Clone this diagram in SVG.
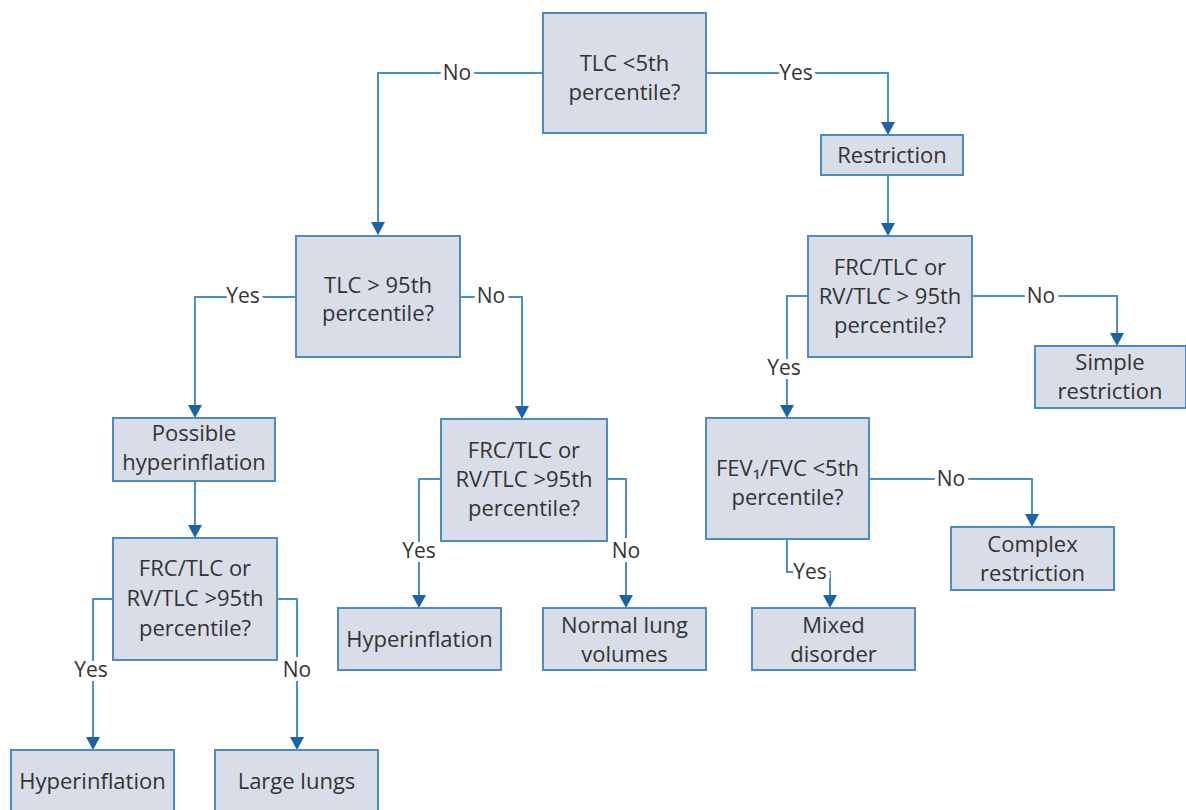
<svg xmlns="http://www.w3.org/2000/svg" width="1186" height="810" viewBox="0 0 1186 810">
<style>
.box{fill:#d9dde8;stroke:#4b8cc3;stroke-width:2}
.t{font-family:"Open Sans","Noto Sans",sans-serif;font-size:22px;fill:#333;text-anchor:middle}
.c{fill:none;stroke:#4a8fc9;stroke-width:2}
.lb{font-family:"Open Sans","Noto Sans",sans-serif;font-size:21px;fill:#333;text-anchor:middle;stroke:#fff;stroke-width:8;paint-order:stroke;stroke-linejoin:round}
.ah{fill:#1b63a6}
</style>
<rect width="1186" height="810" fill="#fff"/>
<g id="connectors">
<path class="c" d="M543,73 H378 V234"/>
<path class="c" d="M706,73 H888 V133"/>
<path class="c" d="M888,175 V234"/>
<path class="c" d="M296,297 H195 V416"/>
<path class="c" d="M460,297 H522 V417"/>
<path class="c" d="M195,481 V536"/>
<path class="c" d="M113,599 H93 V748"/>
<path class="c" d="M277,599 H297 V748"/>
<path class="c" d="M441,479 H419 V606"/>
<path class="c" d="M607,479 H626 V606"/>
<path class="c" d="M972,296 H1117 V344"/>
<path class="c" d="M808,296 H787 V416"/>
<path class="c" d="M869,479 H1032 V525"/>
<path class="c" d="M787,539 V572 H830 V606"/>
<g class="ah">
<path d="M371,222 L385,222 L378,235 Z"/>
<path d="M881,122 L895,122 L888,135 Z"/>
<path d="M881,223 L895,223 L888,236 Z"/>
<path d="M188,405 L202,405 L195,418 Z"/>
<path d="M515,406 L529,406 L522,419 Z"/>
<path d="M188,525 L202,525 L195,538 Z"/>
<path d="M86,737 L100,737 L93,750 Z"/>
<path d="M290,737 L304,737 L297,750 Z"/>
<path d="M412,595 L426,595 L419,608 Z"/>
<path d="M619,595 L633,595 L626,608 Z"/>
<path d="M1110,333 L1124,333 L1117,346 Z"/>
<path d="M780,405 L794,405 L787,418 Z"/>
<path d="M1025,514 L1039,514 L1032,527 Z"/>
<path d="M823,595 L837,595 L830,608 Z"/>
</g>
<text class="lb" x="457" y="80">No</text>
<text class="lb" x="796" y="80">Yes</text>
<text class="lb" x="243" y="303">Yes</text>
<text class="lb" x="491" y="303">No</text>
<text class="lb" x="91" y="677">Yes</text>
<text class="lb" x="297" y="677">No</text>
<text class="lb" x="419" y="558">Yes</text>
<text class="lb" x="626" y="558">No</text>
<text class="lb" x="1041" y="303">No</text>
<text class="lb" x="784" y="375">Yes</text>
<text class="lb" x="951" y="486">No</text>
<text class="lb" x="810" y="579">Yes</text>
</g>
<g id="n1"><rect class="box" x="543" y="13" width="163" height="120"/><text class="t" x="624.5" y="71">TLC &lt;5th</text><text class="t" x="624.5" y="100">percentile?</text></g>
<g id="n2"><rect class="box" x="821" y="135" width="142" height="40"/><text class="t" x="892" y="163">Restriction</text></g>
<g id="n3"><rect class="box" x="296" y="236" width="164" height="121"/><text class="t" x="378" y="293">TLC &gt; 95th</text><text class="t" x="378" y="321">percentile?</text></g>
<g id="n4"><rect class="box" x="808" y="236" width="164" height="121"/><text class="t" x="890" y="275">FRC/TLC or</text><text class="t" x="890" y="304">RV/TLC &gt; 95th</text><text class="t" x="890" y="333">percentile?</text></g>
<g id="n5"><rect class="box" x="1035" y="346" width="151" height="62"/><text class="t" x="1110" y="370">Simple</text><text class="t" x="1110" y="399">restriction</text></g>
<g id="n6"><rect class="box" x="113" y="418" width="162" height="63"/><text class="t" x="194" y="441">Possible</text><text class="t" x="194" y="470">hyperinflation</text></g>
<g id="n7"><rect class="box" x="441" y="419" width="166" height="122"/><text class="t" x="524" y="458">FRC/TLC or</text><text class="t" x="524" y="487">RV/TLC &gt;95th</text><text class="t" x="524" y="516">percentile?</text></g>
<g id="n8"><rect class="box" x="706" y="418" width="163" height="121"/><text class="t" x="787.5" y="476">FEV₁/FVC &lt;5th</text><text class="t" x="787.5" y="505">percentile?</text></g>
<g id="n9"><rect class="box" x="951" y="527" width="163" height="63"/><text class="t" x="1032.5" y="552">Complex</text><text class="t" x="1032.5" y="581">restriction</text></g>
<g id="n10"><rect class="box" x="113" y="538" width="164" height="122"/><text class="t" x="195" y="576">FRC/TLC or</text><text class="t" x="195" y="606">RV/TLC &gt;95th</text><text class="t" x="195" y="636">percentile?</text></g>
<g id="n11"><rect class="box" x="338" y="608" width="163" height="62"/><text class="t" x="419.5" y="647">Hyperinflation</text></g>
<g id="n12"><rect class="box" x="543" y="608" width="163" height="62"/><text class="t" x="624.5" y="633">Normal lung</text><text class="t" x="624.5" y="662">volumes</text></g>
<g id="n13"><rect class="box" x="752" y="608" width="163" height="62"/><text class="t" x="833.5" y="633">Mixed</text><text class="t" x="833.5" y="662">disorder</text></g>
<g id="n14"><rect class="box" x="11" y="750" width="163" height="62"/><text class="t" x="92.5" y="789">Hyperinflation</text></g>
<g id="n15"><rect class="box" x="215" y="750" width="163" height="62"/><text class="t" x="296.5" y="789">Large lungs</text></g>
</svg>
